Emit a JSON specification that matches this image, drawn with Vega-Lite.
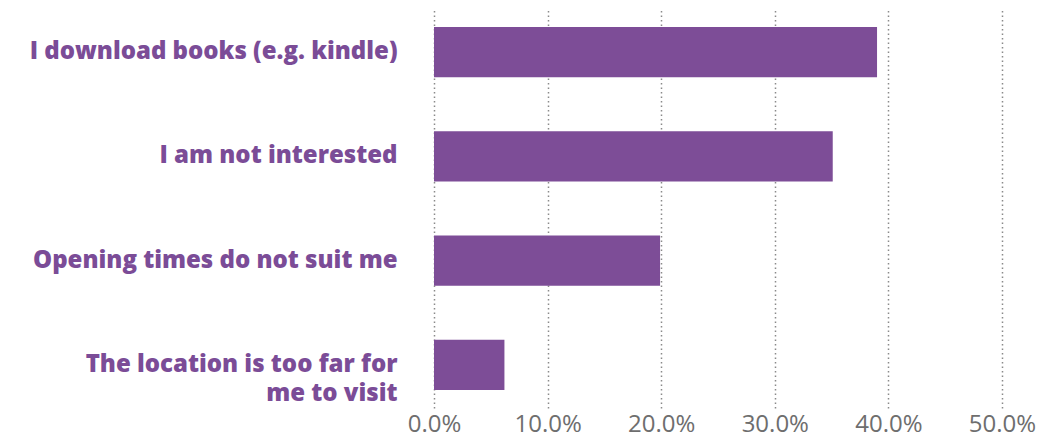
{
  "$schema": "https://vega.github.io/schema/vega-lite/v6.json",
  "width": 568,
  "height": 399,
  "autosize": {"type": "none"},
  "padding": {"left": 434, "top": 9, "right": 52, "bottom": 32},
  "background": "white",
  "data": {
    "values": [
      {"reason": "I download books (e.g. kindle)", "share": 0.39},
      {"reason": "I am not interested", "share": 0.351},
      {"reason": "Opening times do not suit me", "share": 0.199},
      {"reason": "The location is too far for|me to visit", "share": 0.062}
    ]
  },
  "mark": {"type": "bar", "color": "#7D4D97"},
  "encoding": {
    "y": {
      "field": "reason",
      "type": "nominal",
      "sort": null,
      "title": null,
      "scale": {"paddingInner": 0.519, "paddingOuter": 0.173},
      "axis": {
        "domain": false,
        "ticks": false,
        "grid": false,
        "labelExpr": "split(datum.label, '|')",
        "labelFont": "Open Sans",
        "labelFontWeight": 800,
        "labelFontSize": 24,
        "labelColor": "#7B4C97",
        "labelPadding": 37,
        "labelLimit": 500,
        "labelLineHeight": 29
      }
    },
    "x": {
      "field": "share",
      "type": "quantitative",
      "title": null,
      "scale": {"domain": [0, 0.5], "nice": false},
      "axis": {
        "format": ".1%",
        "values": [0, 0.1, 0.2, 0.3, 0.4, 0.5],
        "domain": false,
        "ticks": false,
        "grid": true,
        "gridColor": "#8a8a8a",
        "gridDash": [1.5, 3],
        "gridWidth": 1.5,
        "labelFont": "Open Sans",
        "labelFontWeight": 400,
        "labelFontSize": 24,
        "labelColor": "#6e6e6e",
        "labelPadding": 4,
        "labelFlush": false
      }
    }
  },
  "config": {"view": {"stroke": null}}
}
